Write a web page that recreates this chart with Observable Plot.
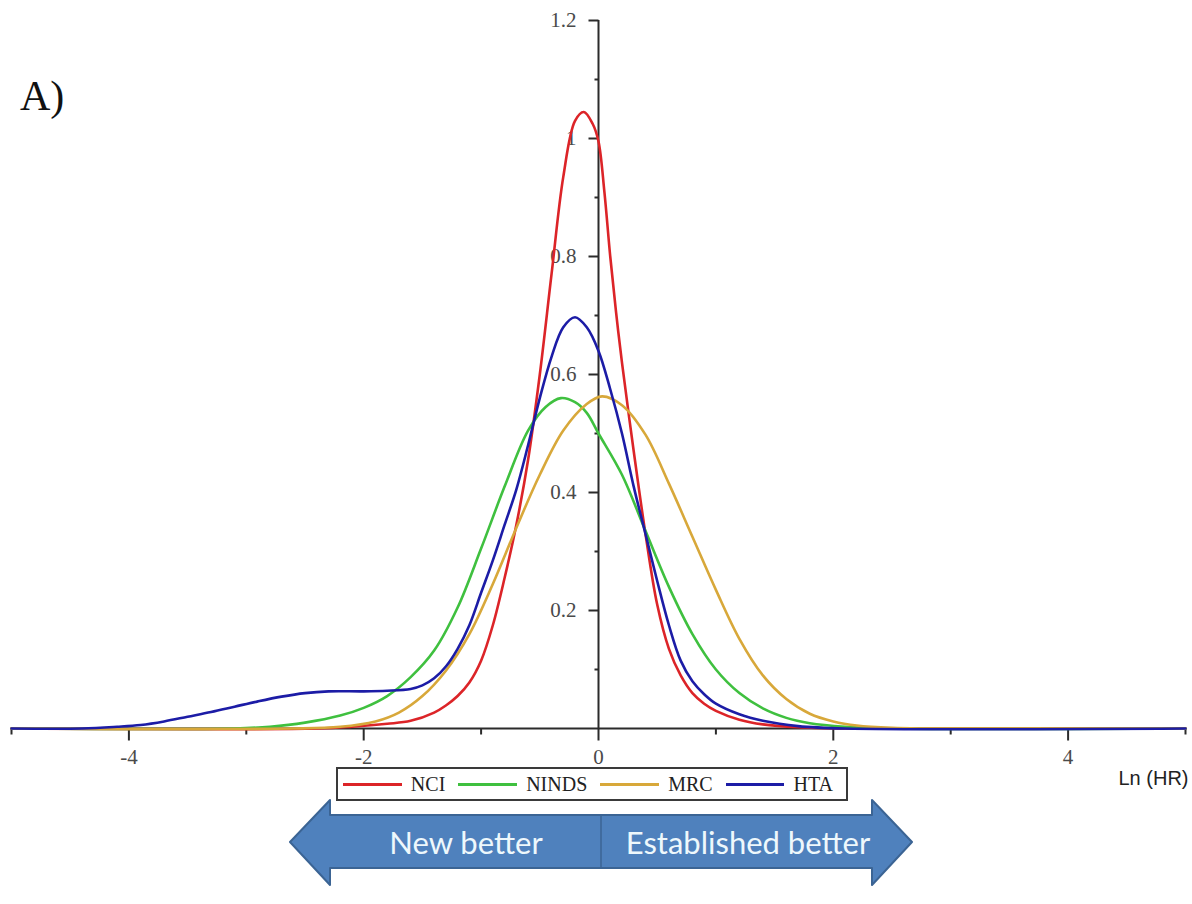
<!DOCTYPE html>
<html>
<head>
<meta charset="utf-8">
<script src="https://cdn.jsdelivr.net/npm/d3@7"></script>
<script src="https://cdn.jsdelivr.net/npm/@observablehq/plot@0.6"></script>
<style>
  body { margin: 0; background: #fff; }
  #wrap { position: relative; width: 1192px; height: 904px; overflow: hidden; background: #fff; }
  #panel { position: absolute; left: 20px; top: 72px; font: 42px "Liberation Serif", serif; color: #111; }
  #legend { position: absolute; left: 336px; top: 767px; width: 512px; height: 34px; box-sizing: border-box;
            border: 2px solid #3a3a3a; display: flex; align-items: center; padding-left: 5px;
            font: 20px "Liberation Serif", serif; color: #222; background: #fff; }
  #legend .sw { display: inline-block; width: 59px; height: 3px; margin-right: 9px; }
  #legend .lab { margin-right: 13px; }
  #arrow { position: absolute; left: 0; top: 0; }
</style>
</head>
<body>
<div id="wrap"></div>
<script>
// Density of ln(HR) for four trial groups: [ln(HR), density] pairs
const seriesNames = ["NCI", "NINDS", "MRC", "HTA"];
const seriesColors = ["#dc2428", "#3fc03f", "#d8a83a", "#1c1ca6"];

const nci = [[-5,0],[-2.4,0],[-2.1,0.003],[-1.8,0.008],[-1.6,0.013],[-1.4,0.027],[-1.3,0.039],[-1.2,0.055],
  [-1.1,0.078],[-1.0,0.115],[-0.9,0.175],[-0.8,0.255],[-0.7,0.345],[-0.6,0.455],[-0.5,0.60],[-0.4,0.77],
  [-0.3,0.935],[-0.2,1.03],[-0.125,1.045],[-0.05,1.025],[0.0,0.995],[0.05,0.91],[0.1,0.80],[0.15,0.705],
  [0.2,0.62],[0.3,0.47],[0.4,0.33],[0.5,0.21],[0.6,0.135],[0.7,0.09],[0.8,0.06],[0.9,0.042],[1.0,0.03],
  [1.2,0.015],[1.4,0.007],[1.7,0.002],[2.1,0],[5,0]];

const ninds = [[-5,0],[-3.1,0],[-2.8,0.003],[-2.5,0.01],[-2.2,0.022],[-2.0,0.035],[-1.8,0.055],[-1.6,0.087],
  [-1.4,0.132],[-1.2,0.205],[-1.0,0.305],[-0.8,0.41],[-0.6,0.505],[-0.45,0.545],[-0.32,0.56],[-0.2,0.553],
  [-0.1,0.535],[0.0,0.50],[0.2,0.43],[0.4,0.335],[0.6,0.24],[0.8,0.16],[1.0,0.10],[1.2,0.06],[1.4,0.034],
  [1.6,0.018],[1.8,0.009],[2.1,0.003],[2.5,0],[5,0]];

const mrc = [[-5,0],[-2.6,0],[-2.2,0.003],[-1.9,0.012],[-1.7,0.027],[-1.5,0.055],[-1.3,0.098],[-1.1,0.16],
  [-0.9,0.245],[-0.7,0.34],[-0.5,0.43],[-0.3,0.505],[-0.1,0.55],[0.03,0.563],[0.2,0.548],[0.4,0.498],
  [0.6,0.415],[0.8,0.325],[1.0,0.235],[1.2,0.152],[1.4,0.09],[1.6,0.05],[1.8,0.025],[2.0,0.012],
  [2.2,0.005],[2.5,0.001],[2.8,0],[5,0]];

const hta = [[-5,0],[-4.4,0],[-4.1,0.003],[-3.9,0.006],[-3.7,0.012],[-3.5,0.02],[-3.3,0.028],[-3.1,0.037],
  [-2.9,0.046],[-2.7,0.054],[-2.5,0.06],[-2.3,0.063],[-2.0,0.063],[-1.8,0.064],[-1.6,0.067],[-1.5,0.073],
  [-1.4,0.085],[-1.3,0.105],[-1.2,0.135],[-1.1,0.175],[-1.0,0.23],[-0.9,0.285],[-0.8,0.345],[-0.7,0.405],
  [-0.6,0.48],[-0.5,0.56],[-0.4,0.63],[-0.3,0.68],[-0.2,0.697],[-0.1,0.68],[0.0,0.64],[0.1,0.575],
  [0.2,0.50],[0.3,0.41],[0.4,0.33],[0.5,0.25],[0.6,0.175],[0.7,0.115],[0.8,0.08],[0.9,0.058],[1.0,0.042],
  [1.2,0.024],[1.4,0.013],[1.7,0.004],[2.1,0],[5,0]];

// Axis ticks and their labels
const yMajor = [0.2, 0.4, 0.6, 0.8, 1, 1.2];
const yMajorLabels = ["0.2", "0.4", "0.6", "0.8", "1", "1.2"];
const yMinor = [0.1, 0.3, 0.5, 0.7, 0.9, 1.1];
const xMajor = [-4, -2, 0, 2, 4];
const xMajorLabels = ["-4", "-2", "0", "2", "4"];
const xMinor = [-5, -3, -1, 1, 3, 5];
const xTitle = "Ln (HR)";
const panelLabel = "A)";
const directionLabels = ["New better", "Established better"];

const allSeries = [nci, ninds, mrc, hta];
const rows = allSeries.flatMap((pts, i) => pts.map(([x, y]) => ({series: seriesNames[i], x, y})));

// short tick strokes as custom dot symbols
const tickLeft = len => ({draw(ctx) { ctx.moveTo(0, 0); ctx.lineTo(-len, 0); }});
const tickDown = len => ({draw(ctx) { ctx.moveTo(0, 0); ctx.lineTo(0, len); }});

const axisColor = "#2b2b2b";
const labelColor = "#4a4a4a";

const chart = Plot.plot({
  width: 1192,
  height: 904,
  marginLeft: 11,
  marginRight: 7,
  marginTop: 20,
  marginBottom: 176,
  style: {fontFamily: "'Liberation Serif', serif", background: "transparent", overflow: "visible"},
  x: {domain: [-5, 5], axis: null},
  y: {domain: [0, 1.2], axis: null},
  color: {domain: seriesNames, range: seriesColors},
  marks: [
    Plot.ruleX([0], {y1: 0, y2: 1.2, stroke: axisColor, strokeWidth: 2}),
    Plot.ruleY([0], {stroke: axisColor, strokeWidth: 2}),
    Plot.dot(yMajor, {x: 0, y: d => d, symbol: tickLeft(10), stroke: axisColor, strokeWidth: 2, fill: "none"}),
    Plot.dot(yMinor, {x: 0, y: d => d, symbol: tickLeft(4), stroke: axisColor, strokeWidth: 2, fill: "none"}),
    Plot.dot(xMajor, {x: d => d, y: 0, symbol: tickDown(12), stroke: axisColor, strokeWidth: 2, fill: "none"}),
    Plot.dot(xMinor, {x: d => d, y: 0, symbol: tickDown(6), stroke: axisColor, strokeWidth: 2, fill: "none"}),
    Plot.text(yMajor, {x: 0, y: d => d, text: (d, i) => yMajorLabels[i], dx: -22, textAnchor: "end",
      fontSize: 21, fill: labelColor}),
    Plot.text(xMajor, {x: d => d, y: 0, text: (d, i) => xMajorLabels[i], dy: 29,
      fontSize: 21, fill: labelColor}),
    Plot.text([xTitle], {x: 5, y: 0, text: d => d, dx: 3, dy: 50, textAnchor: "end",
      fontFamily: "'Liberation Sans', sans-serif", fontSize: 20, fill: "#222"}),
    Plot.line(rows, {x: "x", y: "y", z: "series", stroke: "series", strokeWidth: 2.6, curve: "catmull-rom"})
  ]
});

const wrap = document.getElementById("wrap");
wrap.appendChild(chart);

// panel tag
const tag = document.createElement("div");
tag.id = "panel";
tag.textContent = panelLabel;
wrap.appendChild(tag);

// legend row
const legend = document.createElement("div");
legend.id = "legend";
seriesNames.forEach((name, i) => {
  const sw = document.createElement("span");
  sw.className = "sw";
  sw.style.background = seriesColors[i];
  const lab = document.createElement("span");
  lab.className = "lab";
  lab.textContent = name;
  legend.appendChild(sw);
  legend.appendChild(lab);
});
wrap.appendChild(legend);

// double-headed direction arrow below the legend
const svg = d3.create("svg").attr("id", "arrow").attr("width", 1192).attr("height", 904);
svg.append("polygon")
  .attr("points", "290,842 330,800 330,815 872,815 872,800 912,842 872,885 872,868 330,868 330,885")
  .attr("fill", "#4f81bd").attr("stroke", "#3b6494").attr("stroke-width", 2).attr("stroke-linejoin", "round");
svg.append("line").attr("x1", 601).attr("x2", 601).attr("y1", 815).attr("y2", 868)
  .attr("stroke", "#3b6494").attr("stroke-width", 1.5);
svg.selectAll("text.dir").data(directionLabels).join("text")
  .attr("class", "dir")
  .attr("x", (d, i) => [466, 748][i]).attr("y", 842)
  .attr("text-anchor", "middle").attr("dominant-baseline", "central")
  .attr("font-family", "Lato, sans-serif").attr("font-size", 31)
  .attr("fill", "#eef8fc").text(d => d);
wrap.appendChild(svg.node());
</script>
</body>
</html>
